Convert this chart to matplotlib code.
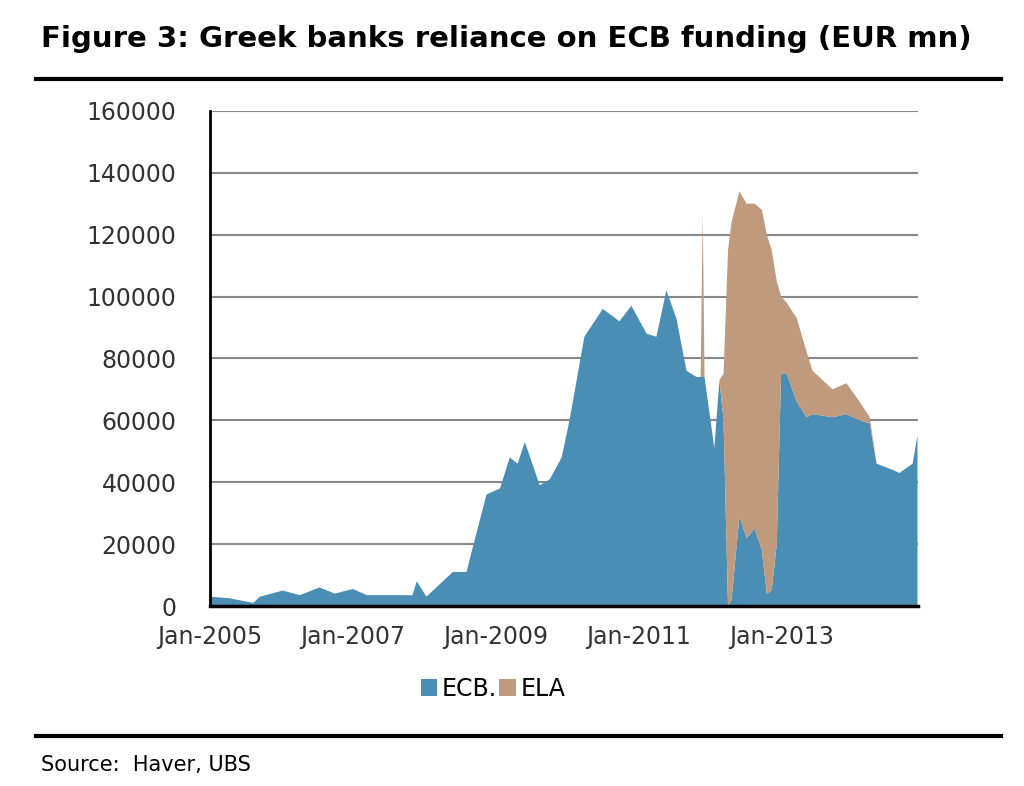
import matplotlib
matplotlib.use("Agg")
import matplotlib.pyplot as plt
import matplotlib.dates as mdates
import pandas as pd

dates = ["2005-01-01","2005-04-12","2005-08-10","2005-09-13","2006-01-08","2006-04-05","2006-07-15",
         "2006-10-01","2007-01-01","2007-03-14","2007-11-02","2007-11-24","2008-01-12","2008-05-26",
         "2008-08-04","2008-09-05","2008-11-14","2009-01-22","2009-03-13","2009-04-22","2009-05-29",
         "2009-08-13","2009-10-04","2009-12-03","2010-01-12","2010-03-29","2010-07-01","2010-09-24",
         "2010-11-24","2011-02-10","2011-04-01","2011-05-22","2011-07-12","2011-09-02","2011-10-23",
         "2011-11-13","2011-11-24","2011-12-03","2012-01-22","2012-02-17","2012-03-09","2012-04-01",
         "2012-04-19","2012-05-29","2012-07-05","2012-08-15","2012-09-21","2012-10-16","2012-11-10",
         "2012-12-06","2012-12-28","2013-01-26","2013-03-18","2013-05-08","2013-06-07","2013-09-17",
         "2013-11-27","2014-02-02","2014-03-26","2014-04-30","2014-07-20","2014-08-25","2014-10-31",
         "2014-11-25"]
ecb = [3000,2500,1000,3000,5000,3500,6000,4000,5500,3500,3500,8000,3000,11000,11000,19000,36000,
       38000,48000,46000,53000,39000,41000,48000,60000,87000,96000,92000,97000,88000,87000,102000,
       93000,76000,74000,74000,74000,74000,51000,73000,60000,0,2000,29000,22000,25000,18000,4000,
       5000,20000,75000,75000,66000,61000,62000,61000,62000,60000,59000,46000,44000,43000,46000,55000]
total = [3000,2500,1000,3000,5000,3500,6000,4000,5500,3500,3500,8000,3000,11000,11000,19000,36000,
         38000,48000,46000,53000,39000,41000,48000,60000,87000,96000,92000,97000,88000,87000,102000,
         93000,76000,74000,74000,127000,74000,51000,73000,75000,115000,124000,134000,130000,130000,
         128000,120000,115000,105000,100000,98000,93000,82000,76000,70000,72000,66000,61000,46000,
         44000,43000,46000,55000]
ela = [t - e for t, e in zip(total, ecb)]
x = pd.to_datetime(dates)

BLUE = "#4a8db5"
BROWN = "#c09a7c"

fig = plt.figure(figsize=(10.24, 7.86), dpi=100)
ax = fig.add_axes([0.205, 0.229, 0.691, 0.630])
ax.stackplot(x, ecb, ela, colors=[BLUE, BROWN], labels=["ECB.", "ELA"], linewidth=0)
ax.set_ylim(0, 160000)
ax.set_xlim(pd.Timestamp("2005-01-01"), pd.Timestamp("2014-11-25"))
ax.set_yticks(range(0, 160001, 20000))
ax.yaxis.grid(True, color="#888888", linewidth=1.5)
ax.set_axisbelow(True)
ax.set_xticks(pd.to_datetime(["2005-01-01", "2007-01-01", "2009-01-01", "2011-01-01", "2013-01-01"]))
ax.xaxis.set_major_formatter(mdates.DateFormatter("%b-%Y"))
ax.tick_params(labelsize=17, length=0)
ax.tick_params(axis="y", pad=24, colors="#333333")
ax.tick_params(axis="x", pad=14, colors="#333333")
for s in ["top", "right"]:
    ax.spines[s].set_visible(False)
ax.spines["left"].set_linewidth(2)
ax.spines["bottom"].set_linewidth(2.5)
ax.legend(loc="upper center", bbox_to_anchor=(0.4, -0.1), ncol=2, frameon=False,
          fontsize=17, handlelength=0.7, handleheight=0.7, columnspacing=0.1, handletextpad=0.2)

fig.text(0.04, 0.95, "Figure 3: Greek banks reliance on ECB funding (EUR mn)", fontsize=21,
         fontweight="bold", va="center")
fig.add_artist(plt.Line2D([0.035, 0.978], [0.9, 0.9], color="black", linewidth=3))
fig.add_artist(plt.Line2D([0.035, 0.978], [0.064, 0.064], color="black", linewidth=3))
fig.text(0.04, 0.027, "Source:  Haver, UBS", fontsize=15, va="center")
fig.savefig("out.png", dpi=100)
